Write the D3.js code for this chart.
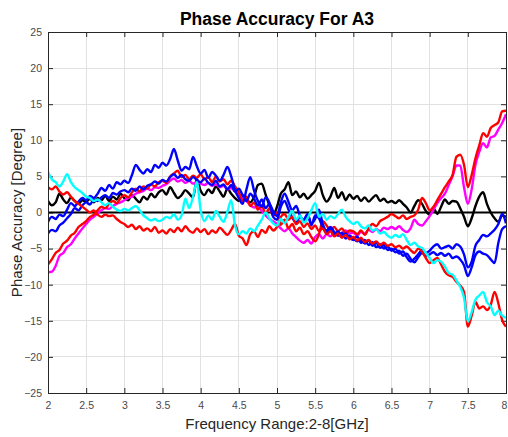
<!DOCTYPE html>
<html><head><meta charset="utf-8">
<script src="https://cdn.jsdelivr.net/npm/d3@7"></script>
<style>body{margin:0;background:#fff}svg{display:block}</style>
</head><body>
<svg id="c" width="508" height="437"></svg>
<script>
// Frequency grid: 2 to 8 GHz, every 0.05 GHz
const freqStart = 2, freqStep = 0.05, freqCount = 121;
const xTicks = [2, 2.5, 3, 3.5, 4, 4.5, 5, 5.5, 6, 6.5, 7, 7.5, 8];
const yTicks = [-25, -20, -15, -10, -5, 0, 5, 10, 15, 20, 25];

const black = [
 1.6, 1.0, 1.4, 2.6, 1.8, 1.3, 2.1, 1.6, 1.2, 1.7,
 1.5, 1.9, 1.4, 2.0, 1.7, 2.3, 1.6, 2.2, 1.8, 2.6,
 2.0, 1.7, 2.4, 1.9, 1.4, 2.2, 1.8, 2.6, 2.1, 2.8,
 3.1, 2.5, 3.5, 2.7, 2.0, 2.4, 3.1, 2.6, 2.1, 4.6,
 3.0, 2.4, 3.2, 2.7, 3.6, 2.9, 2.2, 3.3, 2.6, 2.0,
 1.6, 2.4, 1.8, 1.4, 2.2, 3.8, 4.0, 2.5, 1.0, -0.3,
 0.8, 2.6, 3.2, 4.2, 2.4, 2.9, 2.1, 2.6, 1.9, 2.4,
 3.0, 4.1, 2.4, 1.5, 2.2, 3.4, 2.0, 2.8, 1.7, 2.5,
 1.9, 2.3, 1.6, 2.1, 1.5, 2.0, 2.4, 1.6, 1.9, 1.4,
 1.6, 1.3, 1.7, 1.2, 0.7, 0.0, 0.9, 1.7, 1.2, 0.2,
 -0.3, 0.6, -0.2, 0.8, 1.8, 1.2, 1.6, 1.5, 0.6, -0.6,
 -1.9, -0.8, 0.9, 2.2, 2.8, 1.2, 0.0, -0.8, -1.3, -0.4,
 -0.6];
const blue1 = [
 -1.3, -0.6, -0.9, -0.3, -0.5, 0.4, 1.3, 0.9, 1.5, 2.0,
 1.7, 2.3, 2.0, 2.6, 3.4, 3.0, 3.8, 3.3, 4.2, 3.9,
 4.4, 4.1, 5.2, 6.6, 5.9, 5.4, 6.0, 5.6, 6.6, 6.2,
 6.9, 6.5, 7.4, 8.8, 7.2, 5.8, 6.3, 6.0, 7.7, 6.4,
 5.4, 5.9, 4.8, 5.6, 5.1, 4.4, 5.2, 6.3, 5.0, 3.1,
 2.0, 1.2, 3.2, 4.9, 3.0, 1.6, 0.8, 2.1, 1.4, -0.6,
 -1.0, 0.8, 1.6, 0.4, -0.7, -1.4, -0.6, -1.2, -0.3, -1.8,
 -0.4, -0.8, -2.1, -2.7, -2.2, -3.0, -2.6, -3.4, -2.9, -3.5,
 -3.8, -3.3, -4.2, -3.8, -4.5, -4.1, -4.8, -4.4, -5.0, -4.7,
 -5.3, -5.0, -5.7, -5.4, -6.2, -6.8, -6.4, -5.8, -5.2, -5.6,
 -5.3, -4.7, -4.4, -5.0, -4.8, -4.6, -5.0, -4.4, -4.7, -5.8,
 -7.6, -6.8, -4.6, -3.8, -3.1, -3.3, -2.9, -2.4, -1.6, -0.2,
 -1.5];
const blue2 = [
 -2.9, -2.4, -2.6, -1.8, -1.4, -0.8, -0.2, 0.6, 0.3, 1.0,
 1.4, 1.1, 1.8, 1.6, 2.1, 2.4, 2.0, 2.7, 2.5, 2.9,
 3.1, 2.8, 3.3, 3.0, 3.6, 3.2, 3.7, 3.9, 4.3, 4.0,
 4.5, 4.3, 4.9, 5.3, 4.8, 5.2, 4.6, 4.4, 4.9, 4.5,
 4.2, 4.7, 4.1, 3.8, 4.4, 3.6, 3.9, 3.2, 3.8, 2.9,
 3.3, 2.4, 1.6, 2.6, 1.9, 1.0, 1.8, 0.6, 1.2, 0.2,
 -0.5, 1.4, 2.6, 1.5, 0.3, 0.9, -0.4, -1.0, -0.2, -1.5,
 -0.9, 0.4, -1.6, -2.5, -2.0, -2.7, -3.2, -2.8, -3.6, -3.2,
 -3.6, -4.0, -3.7, -4.3, -3.9, -4.6, -4.2, -4.9, -4.5, -5.2,
 -5.0, -5.5, -5.3, -6.0, -5.7, -6.4, -6.9, -6.2, -5.6, -6.0,
 -5.8, -5.5, -5.9, -5.6, -6.0, -5.7, -6.3, -6.1, -6.5, -7.3,
 -8.8, -7.6, -5.9, -5.4, -5.7, -5.9, -6.5, -7.0, -4.2, -2.3,
 -1.9];
const redA = [
 -7.2, -6.5, -5.6, -5.2, -4.3, -3.9, -3.2, -2.8, -2.0, -1.6,
 -1.2, -0.6, -0.3, 0.3, 0.8, 0.6, 1.2, 1.6, 1.3, 2.0,
 2.4, 2.1, 2.8, 3.3, 2.9, 3.6, 3.3, 3.9, 3.6, 4.2,
 4.4, 4.1, 5.0, 5.4, 5.8, 4.9, 5.2, 4.6, 5.1, 4.8,
 5.3, 4.6, 4.9, 4.2, 5.0, 4.3, 4.6, 3.9, 4.4, 3.6,
 2.8, 1.6, 2.2, 0.9, 1.4, 0.4, 1.0, -0.2, 0.6, -0.4,
 0.0, -1.7, -1.0, -2.2, -1.6, -2.6, -2.1, -3.0, -2.6, -3.4,
 -4.0, -3.0, -1.2, -1.8, -2.5, -2.0, -2.6, -2.2, -2.9, -2.5,
 -2.6, -3.0, -2.5, -3.1, -2.2, -1.6, -1.9, -1.2, -0.9, -0.6,
 -0.2, -0.5, -0.8, -0.4, -0.9, -0.6, -0.4, 0.4, 2.0, 1.3,
 0.3, 0.8, 1.7, 2.6, 3.5, 4.3, 5.2, 7.7, 8.0, 6.6,
 3.5, 5.2, 7.5, 9.3, 11.0, 10.5, 11.7, 12.1, 12.5, 14.0,
 14.1];
const magenta = [
 -8.3, -8.2, -7.4, -6.0, -5.6, -4.8, -4.4, -3.6, -2.9, -2.2,
 -1.6, -1.0, -0.6, -0.1, 0.3, 0.6, 0.5, 0.9, 1.2, 1.4,
 1.7, 2.0, 2.2, 2.6, 2.8, 3.0, 3.3, 3.1, 3.5, 3.4,
 3.7, 3.9, 4.4, 4.7, 4.3, 4.5, 4.1, 4.4, 4.0, 4.2,
 4.0, 3.8, 4.1, 3.7, 3.9, 3.5, 3.7, 3.2, 3.4, 2.9,
 2.5, 2.0, 1.6, 1.0, 0.7, 0.9, 0.2, -0.4, -0.9, -1.2,
 -1.6, -2.2, -2.6, -2.2, -2.9, -3.4, -3.9, -4.2, -3.8, -4.3,
 -3.4, -3.0, -3.6, -3.0, -3.3, -2.8, -3.2, -2.9, -2.5, -2.9,
 -2.8, -3.2, -2.7, -2.9, -2.4, -2.7, -2.3, -2.6, -2.1, -2.3,
 -2.0, -2.3, -1.9, -2.4, -2.7, -2.2, -1.0, -1.6, -1.8, -1.2,
 -0.5, 0.4, 1.3, 2.0, 2.6, 3.8, 5.0, 6.5, 6.5, 3.5,
 1.2, 3.2, 6.6, 8.4, 9.6, 9.0, 10.4, 10.6, 11.5, 12.4,
 13.6];
const redB = [
 3.5, 3.2, 3.6, 2.9, 2.5, 2.8, 2.2, 1.6, 1.2, 0.8,
 0.4, 0.0, 0.3, -0.3, -0.6, -0.3, -0.5, -0.4, -0.9, -1.3,
 -1.6, -2.0, -1.7, -2.3, -1.9, -2.5, -2.2, -2.6, -2.0, -2.8,
 -2.5, -2.9, -2.3, -2.7, -2.1, -2.6, -1.9, -2.5, -2.8, -2.2,
 -2.7, -2.3, -3.0, -2.5, -2.8, -2.1, -2.6, -3.1, -2.4, -1.6,
 -3.2, -3.6, -4.5, -3.0, -2.6, -3.4, -2.4, -2.8, -1.9, -2.5,
 -2.0, -0.6, -0.2, -1.0, -0.6, -1.6, -1.2, -2.0, -1.5, -2.3,
 -1.8, -2.6, -2.2, -3.0, -2.6, -3.3, -2.9, -3.5, -3.1, -3.7,
 -3.4, -3.9, -3.5, -4.1, -3.8, -4.3, -4.0, -4.5, -4.2, -4.6,
 -4.4, -4.8, -4.6, -5.0, -4.7, -5.2, -5.6, -5.0, -5.4, -6.3,
 -7.0, -6.6, -6.3, -7.2, -8.2, -8.7, -8.9, -9.6, -10.1, -11.0,
 -15.8, -14.3, -12.4, -13.3, -13.0, -13.5, -12.8, -11.0, -12.6, -14.9,
 -15.8];
const cyan = [
 5.6, 4.6, 4.2, 3.6, 4.3, 5.3, 4.2, 3.5, 3.1, 2.7,
 2.2, 2.0, 1.6, 1.8, 1.4, 1.0, 1.3, 0.8, 0.4, 0.2,
 0.5, 0.3, 0.6, 0.9, 0.3, -0.4, -0.8, -1.1, -0.9, -1.2,
 -1.0, -0.6, -0.8, -0.2, -1.0, -0.4, 1.9, 0.6, 2.2, 4.2,
 0.3, -1.2, -0.4, -1.0, 0.2, -0.6, -1.3, 0.1, 1.7, -1.8,
 -3.0, -2.6, -2.9, -2.2, -2.6, -1.8, -1.0, 0.0, -0.8, -1.5,
 -1.8, -0.9, -1.5, -0.6, 0.2, -1.0, -0.4, -1.4, -0.8, 0.3,
 1.3, -0.6, -0.2, -1.0, -0.5, -0.8, -0.2, 0.4, -0.6, -1.2,
 -1.6, -1.3, -1.9, -2.2, -1.8, -2.5, -2.3, -2.9, -2.7, -3.2,
 -3.5, -3.1, -3.4, -3.0, -3.8, -4.5, -4.2, -4.7, -4.9, -5.6,
 -6.3, -7.0, -6.6, -6.8, -7.5, -8.4, -8.6, -9.4, -10.3, -11.8,
 -15.1, -13.8, -12.1, -11.5, -11.0, -12.4, -13.0, -14.2, -13.6, -14.3,
 -14.6];

const seriesList = [
  {name: "black", values: black, color: "#000000"},
  {name: "magenta", values: magenta, color: "#ff00ff"},
  {name: "redA", values: redA, color: "#ff0000"},
  {name: "blue1", values: blue1, color: "#0000ff"},
  {name: "blue2", values: blue2, color: "#0000ff"},
  {name: "redB", values: redB, color: "#ff0000"},
  {name: "cyan", values: cyan, color: "#00ffff"}
];

const freqs = d3.range(freqCount).map(i => +(freqStart + i * freqStep).toFixed(2));

const svg = d3.select("#c");
const L = 48, R = 506, T = 32, B = 393;
const x = d3.scaleLinear().domain([2, 8]).range([L, R]);
const y = d3.scaleLinear().domain([-25, 25]).range([B, T]);

// grid
const g = svg.append("g");
g.selectAll(".gx").data(xTicks).join("line")
  .attr("x1", d => x(d)).attr("x2", d => x(d)).attr("y1", T).attr("y2", B)
  .attr("stroke", "#e1e1e1").attr("stroke-width", 1).attr("shape-rendering","crispEdges");
g.selectAll(".gy").data(yTicks).join("line")
  .attr("y1", d => y(d)).attr("y2", d => y(d)).attr("x1", L).attr("x2", R)
  .attr("stroke", "#e1e1e1").attr("stroke-width", 1).attr("shape-rendering","crispEdges");

// axes
const axColor = "#262626";
const xAxis = svg.append("g").attr("transform", `translate(0,${B})`)
  .call(d3.axisBottom(x).tickValues(xTicks).tickSizeInner(-5).tickSizeOuter(0).tickPadding(9).tickFormat(d3.format("")));
const yAxis = svg.append("g").attr("transform", `translate(${L},0)`)
  .call(d3.axisLeft(y).tickValues(yTicks).tickSizeInner(-5).tickSizeOuter(0).tickPadding(6).tickFormat(d3.format("")));
const xTop = svg.append("g").attr("transform", `translate(0,${T})`)
  .call(d3.axisTop(x).tickValues(xTicks).tickSizeInner(-5).tickSizeOuter(0).tickFormat(""));
const yRight = svg.append("g").attr("transform", `translate(${R},0)`)
  .call(d3.axisRight(y).tickValues(yTicks).tickSizeInner(-5).tickSizeOuter(0).tickFormat(""));
[xAxis, yAxis, xTop, yRight].forEach(a => {
  a.selectAll("path").attr("stroke", axColor);
  a.selectAll("line").attr("stroke", axColor);
  a.selectAll("text").attr("fill", "#4a4a4a").attr("font-family", "'Liberation Sans', Arial, sans-serif").attr("font-size", 10.5);
});
// keep the last x label inside the window
xAxis.selectAll(".tick").filter(d => d === 8).select("text").attr("dx", "-2");

// zero line
svg.append("line").attr("x1", L).attr("x2", R).attr("y1", y(0)).attr("y2", y(0))
  .attr("stroke", "#000").attr("stroke-width", 2);

// series
const line = d3.line().x((d, i) => x(freqs[i])).y(d => y(d)).curve(d3.curveMonotoneX);
svg.append("clipPath").attr("id", "clip").append("rect")
  .attr("x", L).attr("y", T).attr("width", R - L).attr("height", B - T);
svg.append("g").attr("clip-path", "url(#clip)")
  .selectAll("path").data(seriesList).join("path")
  .attr("d", d => line(d.values))
  .attr("fill", "none").attr("stroke", d => d.color)
  .attr("stroke-width", 2.4).attr("stroke-linejoin", "round");

// box on top
svg.append("rect").attr("x", L).attr("y", T).attr("width", R - L).attr("height", B - T)
  .attr("fill", "none").attr("stroke", axColor).attr("stroke-width", 1).attr("shape-rendering","crispEdges");

// titles
svg.append("text").attr("x", 277).attr("y", 25).attr("text-anchor", "middle")
  .attr("font-family", "'Liberation Sans', Arial, sans-serif").attr("font-weight", "bold")
  .attr("font-size", 17.5).attr("fill", "#000").text("Phase Accuracy For A3");
svg.append("text").attr("x", 277).attr("y", 429).attr("text-anchor", "middle")
  .attr("font-family", "'Liberation Sans', Arial, sans-serif")
  .attr("font-size", 15).attr("fill", "#262626").text("Frequency Range:2-8[GHz]");
svg.append("text").attr("transform", `translate(22,${(T + B) / 2}) rotate(-90)`).attr("text-anchor", "middle")
  .attr("font-family", "'Liberation Sans', Arial, sans-serif")
  .attr("font-size", 15).attr("fill", "#262626").text("Phase Accuracy [Degree]");
</script>
</body></html>
